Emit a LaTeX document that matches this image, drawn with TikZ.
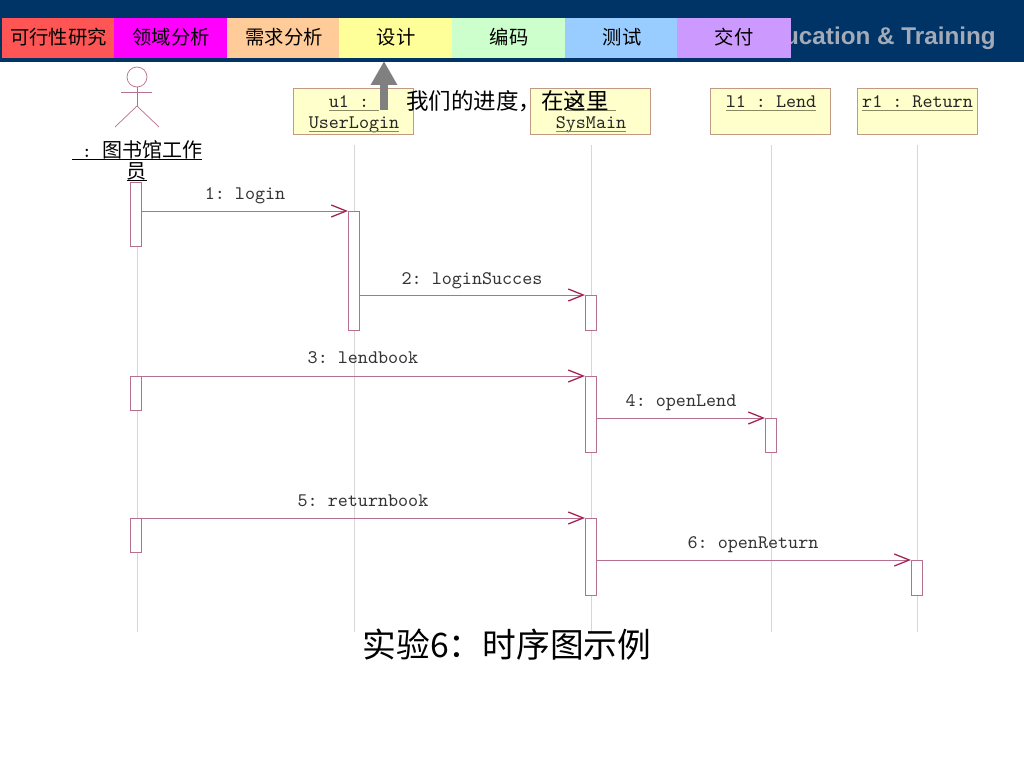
\documentclass[tikz,border=0pt]{standalone}
\usepackage{fontspec}
\setmonofont{Latin Modern Mono}
\setsansfont{Liberation Sans}
\newfontfamily\cjk{Noto Sans CJK SC}
\usetikzlibrary{arrows.meta}
\definecolor{banner}{HTML}{003366}
\definecolor{bannertext}{HTML}{A3ABB9}
\definecolor{boxfill}{HTML}{FFFFCC}
\definecolor{boxline}{HTML}{C09A85}
\definecolor{underln}{HTML}{8A8A62}
\definecolor{lifeln}{HTML}{D9D4D6}
\definecolor{seqline}{HTML}{B5708F}
\definecolor{seqtip}{HTML}{A3204F}
\definecolor{tabpink}{HTML}{FF00FF}
\newcommand{\flatline}[1]{\underline{\raisebox{0pt}[\height][0pt]{#1}}}
\newcommand{\objname}[1]{\textcolor{underln}{\flatline{\textcolor{black!85}{#1}}}}
\tikzset{
  tabbox/.style={minimum width=2.28cm,minimum height=0.8cm,inner sep=0pt,text height=8.6pt,text depth=1.4pt,font=\cjk\fontsize{11}{12}\selectfont},
  objbox/.style={draw=boxline,fill=boxfill,anchor=north west,minimum width=2.41cm,minimum height=0.93cm,inner sep=0pt},
  objtext/.style={font=\ttfamily\fontsize{10.9}{12}\selectfont,align=center,anchor=north},
  actbar/.style={draw=seqline,fill=white,anchor=north,minimum width=0.23cm,inner sep=0pt},
  lifeline/.style={draw=lifeln,line width=0.5pt},
  seqmsg/.style={draw=seqline,line width=0.5pt,-{Straight Barb[length=0.3cm,width=0.24cm,color=seqtip,line width=0.7pt]}},
  msgtext/.style={font=\ttfamily\fontsize{10.9}{12}\selectfont,text=black!80,text height=7pt,text depth=2pt}
}
\begin{document}
\begin{tikzpicture}[x=0.02cm,y=-0.02cm]
  \useasboundingbox (0,0) rectangle (1024,768);
  % banner and tabs
  \fill [banner] (0,0) rectangle (1024,62);
  \node (trainer) [anchor=east,inner sep=0pt,text=bannertext,font=\sffamily\bfseries\fontsize{13.8}{16}\selectfont] at (996,38) {ucation \& Training};
  \node (tabfeas) [tabbox,fill={rgb,255:red,255;green,85;blue,85}] at (58.5,38) {可行性研究};
  \node (tabdomain) [tabbox,fill=tabpink] at (171,38) {领域分析};
  \node (tabreq) [tabbox,fill={rgb,255:red,255;green,204;blue,153}] at (284,38) {需求分析};
  \node (tabdesign) [tabbox,fill={rgb,255:red,255;green,255;blue,153}] at (396,38) {设计};
  \node (tabcode) [tabbox,fill={rgb,255:red,204;green,255;blue,204}] at (509,38) {编码};
  \node (tabtest) [tabbox,fill={rgb,255:red,153;green,204;blue,255}] at (622,38) {测试};
  \node (tabship) [tabbox,fill={rgb,255:red,204;green,153;blue,255}] at (734,38) {交付};
  % actor
  \node (head) [draw=seqline,circle,minimum size=0.4cm,inner sep=0pt] at (137,77) {};
  \coordinate (hip) at (137,106);
  \coordinate (armL) at (121,92);
  \coordinate (armR) at (152,92);
  \coordinate (legL) at (115,127);
  \coordinate (legR) at (159,127);
  \draw [seqline] (head.south)--(hip);
  \draw [seqline] (armL)--(armR);
  \draw [seqline] (legL)--(hip)--(legR);
  \node (actor) [objtext,inner sep=0pt] at (137,140) {\flatline{\ :\ {\cjk\fontsize{11.4}{12}\selectfont 图书馆工作}}\\\flatline{\cjk\fontsize{11.4}{12}\selectfont 员}};
  % objects
  \node (login) [objbox] at (293,88) {};
  \node (sysmain) [objbox] at (530,88) {};
  \node (lend) [objbox] at (710,88) {};
  \node (return) [objbox] at (857,88) {};
  \node (logintext) [objtext,inner sep=0pt] at (354,95.5) {\objname{u1 :\ }\\\objname{UserLogin}};
  \node (maintext) [objtext,inner sep=0pt] at (591,95.5) {\objname{s1 :\ }\\\objname{SysMain}};
  \node (lendtext) [objtext,inner sep=0pt] at (771,95.5) {\objname{l1 : Lend}};
  \node (rettext) [objtext,inner sep=0pt] at (917.5,95.5) {\objname{r1 : Return}};
  % life lines
  \coordinate (endA) at (137,632);
  \coordinate (endU) at (354,632);
  \coordinate (endS) at (591,632);
  \coordinate (endL) at (771,632);
  \coordinate (endR) at (917,632);
  \coordinate (topA) at (137,182);
  \coordinate (topU) at (354,145);
  \coordinate (topS) at (591,145);
  \coordinate (topL) at (771,145);
  \coordinate (topR) at (917,145);
  \draw [lifeline] (topA)--(endA);
  \draw [lifeline] (topU)--(endU);
  \draw [lifeline] (topS)--(endS);
  \draw [lifeline] (topL)--(endL);
  \draw [lifeline] (topR)--(endR);
  % activations
  \node (barA1) [actbar,minimum height=1.28cm] at (136,182) {};
  \node (barU) [actbar,minimum height=2.38cm] at (354,211) {};
  \node (barS1) [actbar,minimum height=0.7cm] at (591,295) {};
  \node (barA2) [actbar,minimum height=0.68cm] at (136,376) {};
  \node (barS2) [actbar,minimum height=1.52cm] at (591,376) {};
  \node (barL) [actbar,minimum height=0.68cm] at (771,418) {};
  \node (barA3) [actbar,minimum height=0.68cm] at (136,518) {};
  \node (barS3) [actbar,minimum height=1.54cm] at (591,518) {};
  \node (barR) [actbar,minimum height=0.7cm] at (917,560) {};
  % messages
  \draw [seqmsg] (barA1.east |- barU.north west)--(barU.north west);
  \draw [seqmsg] (barU.east |- barS1.north west)--(barS1.north west);
  \draw [seqmsg] (barA2.north east)--(barS2.north west);
  \draw [seqmsg] (barS2.east |- barL.north west)--(barL.north west);
  \draw [seqmsg] (barA3.north east)--(barS3.north west);
  \draw [seqmsg] (barS3.east |- barR.north west)--(barR.north west);
  \node (msg1) [msgtext] at (245,195) {1: login};
  \node (msg2) [msgtext] at (472,280) {2: loginSucces};
  \node (msg3) [msgtext] at (363,359.5) {3: lendbook};
  \node (msg4) [msgtext] at (681,402) {4: openLend};
  \node (msg5) [msgtext] at (363,502) {5: returnbook};
  \node (msg6) [msgtext] at (753,544) {6: openReturn};
  % progress note
  \coordinate (pointfoot) at (384,110);
  \coordinate (pointtip) at (384,61);
  \draw [line width=0.16cm,draw=gray,-{Triangle[length=0.48cm,width=0.5cm]}] (pointfoot)--(pointtip);
  \node (progress) [anchor=west,inner sep=0pt,font=\cjk\fontsize{12.8}{14}\selectfont] at (406,101.5) {我们的进度，在这里};
  \node (caption) [inner sep=0pt,font=\cjk\fontsize{19.2}{22}\selectfont] at (507,645) {实验6：时序图示例};
\end{tikzpicture}
\end{document}
